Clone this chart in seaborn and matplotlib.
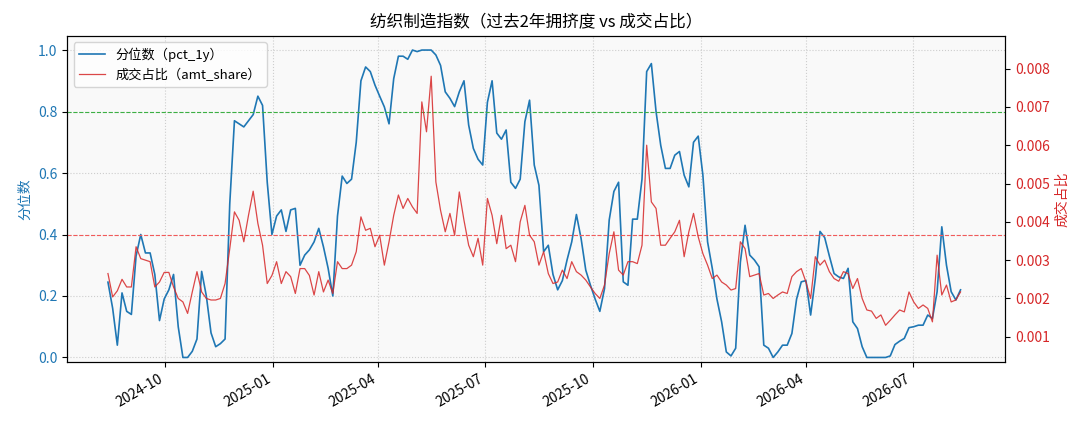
import matplotlib
matplotlib.use('Agg')
import matplotlib.pyplot as plt
import matplotlib.dates as mdates
from matplotlib.ticker import MultipleLocator
import numpy as np
import pandas as pd
import seaborn as sns

# 分位数 (过去1年) —— 每4天取一个点
pct_1y = [
    0.245, 0.16, 0.04, 0.21, 0.15, 0.14, 0.33, 0.40, 0.34, 0.34,
    0.27, 0.12, 0.19, 0.22, 0.27, 0.10, 0.0, 0.0, 0.02, 0.06,
    0.28, 0.20, 0.08, 0.035, 0.045, 0.06, 0.50, 0.77, 0.76, 0.75,
    0.77, 0.79, 0.85, 0.82, 0.57, 0.40, 0.46, 0.48, 0.41, 0.48,
    0.485, 0.30, 0.333, 0.35, 0.376, 0.42, 0.36, 0.29, 0.20, 0.46,
    0.59, 0.566, 0.58, 0.70, 0.90, 0.945, 0.93, 0.886, 0.85, 0.815,
    0.76, 0.907, 0.98, 0.98, 0.97, 1.0, 0.995, 1.0, 1.0, 1.0,
    0.984, 0.95, 0.864, 0.843, 0.816, 0.864, 0.90, 0.756, 0.68, 0.645,
    0.626, 0.83, 0.90, 0.73, 0.71, 0.74, 0.57, 0.55, 0.58, 0.767,
    0.837, 0.626, 0.56, 0.344, 0.365, 0.27, 0.22, 0.25, 0.317, 0.376,
    0.465, 0.387, 0.284, 0.235, 0.19, 0.15, 0.224, 0.447, 0.54, 0.57,
    0.246, 0.235, 0.45, 0.45, 0.58, 0.93, 0.956, 0.80, 0.69, 0.615,
    0.615, 0.658, 0.67, 0.593, 0.555, 0.70, 0.72, 0.593, 0.376, 0.29,
    0.19, 0.116, 0.018, 0.005, 0.03, 0.31, 0.43, 0.333, 0.317, 0.295,
    0.04, 0.03, 0.0, 0.018, 0.04, 0.04, 0.078, 0.19, 0.246, 0.25,
    0.138, 0.257, 0.41, 0.39, 0.33, 0.273, 0.262, 0.257, 0.29, 0.116,
    0.094, 0.035, 0.0, 0.0, 0.0, 0.0, 0.0, 0.005, 0.042, 0.053,
    0.062, 0.097, 0.10, 0.105, 0.105, 0.138, 0.127, 0.214, 0.425, 0.30,
    0.214, 0.187, 0.22,
]

# 成交占比，单位：千分之一
amt_share_permille = [
    2.65, 2.04, 2.2, 2.5, 2.3, 2.3, 3.35, 3.04, 3.0, 2.96,
    2.3, 2.43, 2.68, 2.68, 2.3, 2.0, 1.91, 1.61, 2.17, 2.7,
    2.17, 2.0, 1.96, 1.96, 2.0, 2.39, 3.3, 4.26, 4.04, 3.48,
    4.17, 4.8, 3.96, 3.39, 2.39, 2.6, 2.96, 2.39, 2.7, 2.57,
    2.13, 2.78, 2.78, 2.6, 2.09, 2.7, 2.17, 2.48, 2.13, 2.96,
    2.78, 2.78, 2.87, 3.22, 4.13, 3.78, 3.83, 3.35, 3.65, 2.87,
    3.48, 4.17, 4.7, 4.35, 4.61, 4.39, 4.22, 7.13, 6.35, 7.8,
    5.04, 4.3, 3.74, 4.22, 3.65, 4.78, 4.04, 3.39, 3.09, 3.57,
    2.87, 4.61, 4.17, 3.43, 4.17, 3.3, 3.39, 2.96, 4.0, 4.43,
    3.65, 3.48, 2.87, 3.22, 2.65, 2.39, 2.43, 2.74, 2.52, 2.96,
    2.7, 2.61, 2.48, 2.3, 2.13, 2.0, 2.35, 3.17, 3.74, 2.74,
    2.61, 2.96, 2.96, 2.91, 3.39, 6.0, 4.52, 4.35, 3.39, 3.39,
    3.57, 3.74, 4.04, 3.09, 3.74, 4.22, 3.61, 3.17, 2.87, 2.52,
    2.61, 2.43, 2.35, 2.22, 2.26, 3.48, 3.3, 2.57, 2.61, 2.65,
    2.09, 2.13, 2.0, 2.09, 2.17, 2.13, 2.57, 2.7, 2.78, 2.43,
    2.0, 3.09, 2.87, 3.0, 2.7, 2.52, 2.45, 2.7, 2.65, 2.26,
    2.52, 2.0, 1.7, 1.67, 1.48, 1.57, 1.3, 1.43, 1.57, 1.7,
    1.65, 2.17, 1.91, 1.74, 1.83, 1.74, 1.39, 3.13, 2.09, 2.35,
    1.91, 1.96, 2.17,
]

dates = pd.date_range('2024-08-13', periods=len(pct_1y), freq='4D')
amt_share = np.array(amt_share_permille) / 1000

plt.rcParams['font.family'] = ['Noto Sans CJK SC', 'DejaVu Sans']
plt.rcParams['axes.unicode_minus'] = False

BLUE = '#1f77b4'
RED = '#d62728'

fig, ax = plt.subplots(figsize=(10.89, 4.29), dpi=100)
ax.set_facecolor('#f9f9f9')

ax.grid(True, ls=':', color='#bbbbbb', lw=0.8, alpha=0.7)
sns.lineplot(x=dates, y=pct_1y, ax=ax, color=BLUE, lw=1.2, label='分位数（pct_1y）')
ax.axhline(0.8, color='#3cb043', ls='--', lw=0.8, zorder=4)
ax.axhline(0.4, color='#f25a5a', ls='--', lw=0.8, zorder=4)

ax2 = ax.twinx()
sns.lineplot(x=dates, y=amt_share, ax=ax2, color=RED, lw=0.9, alpha=0.85,
             label='成交占比（amt_share）')

# 合并图例
h1, l1 = ax.get_legend_handles_labels()
h2, l2 = ax2.get_legend_handles_labels()
for a in (ax, ax2):
    if a.get_legend() is not None:
        a.get_legend().remove()
ax2.legend(h1 + h2, l1 + l2, loc='upper left', fontsize=9.5)

ax.set_ylim(-0.015, 1.047)
ax2.set_ylim(0.00034, 0.00886)
ax.set_xlim(pd.Timestamp('2024-07-09'), pd.Timestamp('2026-09-18'))
ax2.yaxis.set_major_locator(MultipleLocator(0.001))

ax.xaxis.set_major_locator(mdates.MonthLocator(bymonth=[1, 4, 7, 10]))
ax.xaxis.set_major_formatter(mdates.DateFormatter('%Y-%m'))
plt.setp(ax.get_xticklabels(), rotation=30, ha='right')

ax.tick_params(axis='y', labelcolor=BLUE)
ax2.tick_params(axis='y', labelcolor=RED)
ax.set_xlabel('')
ax.set_ylabel('分位数', color=BLUE)
ax2.set_ylabel('成交占比', color=RED)
ax.set_title('纺织制造指数（过去2年拥挤度 vs 成交占比）', fontsize=12)

fig.subplots_adjust(left=0.0615, right=0.9229, top=0.917, bottom=0.156)
fig.savefig('out.png', dpi=100)
